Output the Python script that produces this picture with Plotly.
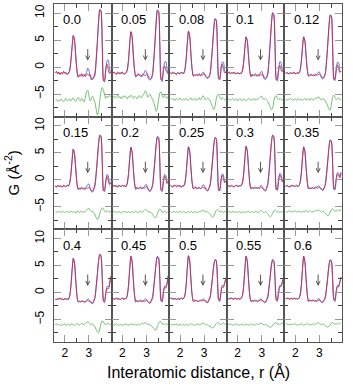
import plotly.graph_objects as go
from plotly.subplots import make_subplots

# radial grid (Angstrom)
r = [1.60, 1.65, 1.70, 1.75, 1.80, 1.85, 1.90, 1.95, 2.00, 2.05, 2.10, 2.15,
     2.20, 2.25, 2.30, 2.35, 2.40, 2.45, 2.50, 2.55, 2.60, 2.65, 2.70, 2.75,
     2.80, 2.85, 2.90, 2.95, 3.00, 3.05, 3.10, 3.15, 3.20, 3.25, 3.30, 3.35,
     3.40, 3.45, 3.50, 3.55, 3.60, 3.65, 3.70, 3.75, 3.80, 3.85, 3.90]

labels = ["0.0", "0.05", "0.08", "0.1", "0.12",
          "0.15", "0.2", "0.25", "0.3", "0.35",
          "0.4", "0.45", "0.5", "0.55", "0.6"]

# experimental G(r) (red), model (blue), offset difference (green)
obs_000 = [-1.0, -0.8, -1.3, -0.9, -1.4, -1.0, -1.3, -0.8, -1.2, -1.0, -1.4, -1.1, -0.6, 1.2, 3.8, 5.9, 5.0, 2.1, -0.6, -1.8, -1.4, -1.7, -1.2, -1.6, -1.3, -1.8, -1.4, -1.3, -1.6, -1.4, -2.0, -2.3, -1.8, -1.1, 1.6, 4.9, 8.6, 10.6, 10.3, 4.3, -2.6, -2.3, -0.3, 0.5, -0.4, -1.2, -0.9]
fit_000 = [-1.1, -0.9, -1.2, -1.0, -1.3, -1.1, -1.2, -0.9, -1.1, -1.1, -1.3, -1.2, -0.7, 1.0, 3.6, 5.8, 5.1, 2.3, -0.5, -1.9, -1.6, -1.5, -1.4, -1.8, -1.6, -1.5, -1.0, -0.2, -0.6, -1.8, -2.4, -2.1, -2.0, -1.5, 1.0, 4.6, 8.4, 10.7, 10.5, 4.8, -2.1, -2.8, -0.6, 1.2, 1.3, -0.3, -1.1]
dif_000 = [-6.2, -6.0, -6.4, -6.1, -6.3, -5.9, -6.2, -6.4, -6.0, -5.8, -6.3, -6.1, -5.9, -6.3, -6.0, -5.7, -6.2, -6.4, -5.9, -5.6, -6.0, -6.3, -5.8, -6.1, -6.5, -5.6, -4.6, -4.3, -5.2, -6.3, -5.9, -5.4, -6.0, -6.6, -7.8, -8.9, -8.1, -6.2, -4.6, -3.8, -4.2, -5.2, -5.8, -5.4, -5.6, -5.3, -5.5]

obs_005 = [-1.2, -0.9, -1.1, -1.4, -0.9, -1.2, -1.0, -1.3, -0.9, -1.2, -1.3, -1.0, -0.5, 1.3, 4.3, 6.6, 5.6, 2.3, -0.5, -1.7, -1.5, -1.2, -1.6, -1.4, -1.7, -1.3, -1.5, -1.6, -1.3, -1.5, -1.9, -2.2, -2.0, -1.2, 1.5, 4.8, 8.5, 10.5, 10.2, 4.2, -2.4, -2.2, -0.4, 0.2, -0.6, -1.0, -1.3]
fit_005 = [-1.1, -1.0, -1.2, -1.2, -1.0, -1.3, -1.1, -1.1, -1.0, -1.3, -1.2, -1.1, -0.6, 1.1, 4.1, 6.5, 5.7, 2.5, -0.4, -1.8, -1.7, -1.4, -1.5, -1.7, -1.8, -1.5, -1.1, -0.6, -0.9, -1.8, -2.3, -2.4, -2.1, -1.5, 1.0, 4.4, 8.3, 10.6, 10.4, 4.7, -1.9, -2.7, -0.8, 0.9, 1.0, -0.5, -1.2]
dif_005 = [-5.6, -5.4, -5.8, -5.5, -5.2, -5.7, -5.5, -5.9, -5.4, -5.6, -5.3, -5.7, -5.9, -5.4, -5.6, -5.2, -5.5, -5.8, -5.4, -5.6, -5.9, -5.5, -5.3, -5.7, -5.6, -5.2, -4.9, -4.4, -4.8, -5.6, -5.3, -5.0, -5.6, -6.0, -6.6, -7.4, -8.2, -7.6, -6.1, -4.8, -4.6, -5.3, -5.7, -5.2, -5.5, -5.8, -5.4]

obs_008 = [-1.0, -1.3, -0.9, -1.2, -1.1, -1.4, -1.0, -1.2, -1.3, -0.9, -1.2, -1.1, -0.5, 1.4, 4.4, 6.7, 5.7, 2.4, -0.4, -1.6, -1.4, -1.6, -1.3, -1.5, -1.2, -1.6, -1.4, -1.5, -1.2, -1.6, -1.8, -2.0, -1.7, -1.0, 1.3, 4.1, 7.2, 8.9, 8.6, 3.6, -2.2, -2.0, -0.2, 0.5, -0.3, -1.1, -1.0]
fit_008 = [-1.1, -1.2, -1.0, -1.1, -1.2, -1.3, -1.1, -1.1, -1.2, -1.0, -1.1, -1.2, -0.6, 1.2, 4.2, 6.6, 5.8, 2.6, -0.3, -1.7, -1.6, -1.5, -1.4, -1.6, -1.5, -1.6, -1.3, -0.9, -1.1, -1.7, -2.0, -2.1, -1.9, -1.3, 0.9, 3.8, 7.0, 9.0, 8.8, 4.0, -1.8, -2.4, -0.6, 0.9, 0.9, -0.6, -1.1]
dif_008 = [-6.0, -5.8, -6.1, -5.9, -6.2, -5.8, -6.0, -6.1, -5.7, -6.0, -6.2, -5.9, -6.1, -5.8, -6.0, -6.2, -5.9, -5.7, -6.1, -6.0, -5.8, -6.2, -5.9, -6.0, -5.7, -6.1, -5.8, -5.3, -5.6, -6.1, -5.9, -5.7, -6.0, -6.3, -6.8, -7.4, -7.9, -7.3, -6.0, -5.2, -5.0, -5.6, -6.0, -5.7, -5.9, -6.1, -5.8]

obs_010 = [-1.1, -0.9, -1.3, -1.0, -1.2, -0.9, -1.3, -1.1, -1.0, -1.3, -1.1, -1.2, -0.6, 1.0, 3.7, 5.6, 4.8, 2.0, -0.6, -1.7, -1.3, -1.6, -1.4, -1.2, -1.6, -1.4, -1.7, -1.3, -1.5, -1.4, -1.9, -2.1, -1.8, -1.1, 1.4, 4.6, 8.0, 10.0, 9.6, 4.0, -2.4, -2.1, -0.4, 0.3, -0.5, -0.9, -0.6]
fit_010 = [-1.0, -1.0, -1.2, -1.1, -1.1, -1.0, -1.2, -1.2, -1.1, -1.2, -1.2, -1.1, -0.7, 0.8, 3.5, 5.6, 4.9, 2.2, -0.5, -1.8, -1.5, -1.5, -1.6, -1.5, -1.7, -1.6, -1.4, -1.0, -0.8, -1.5, -2.2, -2.3, -2.0, -1.4, 1.0, 4.3, 7.8, 10.1, 9.8, 4.5, -1.9, -2.6, -0.8, 1.0, 0.9, -0.6, -0.8]
dif_010 = [-6.1, -5.9, -6.2, -6.0, -5.8, -6.2, -6.0, -5.9, -6.3, -6.0, -5.8, -6.1, -6.2, -5.9, -6.0, -6.3, -6.1, -5.8, -6.0, -6.2, -5.9, -6.1, -5.8, -6.2, -6.0, -5.9, -5.7, -5.5, -5.4, -5.9, -6.0, -5.8, -6.1, -6.4, -6.9, -7.4, -7.9, -7.6, -6.4, -5.5, -5.3, -5.8, -6.1, -5.8, -6.0, -6.2, -5.9]

obs_012 = [-1.2, -1.0, -1.1, -1.3, -1.0, -1.2, -1.1, -0.9, -1.3, -1.1, -1.0, -1.2, -0.6, 1.0, 3.7, 5.6, 4.8, 2.0, -0.6, -1.6, -1.4, -1.3, -1.6, -1.4, -1.5, -1.3, -1.6, -1.4, -1.3, -1.5, -1.8, -2.0, -1.7, -1.0, 1.3, 4.4, 7.7, 9.6, 9.3, 3.9, -2.3, -2.0, -0.3, 0.4, -0.4, -1.0, -0.8]
fit_012 = [-1.1, -1.1, -1.2, -1.2, -1.1, -1.1, -1.2, -1.0, -1.2, -1.2, -1.1, -1.1, -0.7, 0.9, 3.5, 5.6, 4.9, 2.2, -0.5, -1.7, -1.6, -1.5, -1.5, -1.6, -1.6, -1.5, -1.3, -1.0, -0.9, -1.5, -2.1, -2.2, -1.9, -1.3, 1.0, 4.1, 7.5, 9.7, 9.5, 4.3, -1.9, -2.5, -0.7, 0.9, 0.8, -0.7, -0.9]
dif_012 = [-6.0, -6.2, -5.9, -6.1, -5.8, -6.0, -6.2, -5.9, -6.0, -6.2, -5.8, -6.0, -6.1, -5.9, -6.2, -6.0, -5.8, -6.1, -6.0, -5.9, -6.2, -5.8, -6.0, -6.1, -5.9, -5.7, -5.8, -5.5, -5.7, -6.0, -6.1, -5.8, -6.0, -6.3, -6.7, -7.3, -7.8, -8.0, -6.9, -5.6, -5.2, -5.6, -6.0, -5.9, -5.7, -6.0, -6.1]

obs_015 = [-1.1, -1.4, -1.0, -1.3, -1.1, -1.2, -1.4, -1.0, -1.2, -1.3, -1.0, -1.2, -0.6, 1.0, 3.7, 5.7, 4.8, 2.0, -0.6, -1.7, -1.5, -1.8, -1.4, -1.6, -1.5, -1.8, -1.5, -1.6, -1.4, -1.7, -2.0, -2.1, -1.6, -0.8, 1.4, 4.0, 6.8, 8.2, 7.9, 3.3, -2.1, -1.8, -0.2, 0.6, 0.0, -0.9, -0.5]
fit_015 = [-1.2, -1.3, -1.1, -1.2, -1.2, -1.2, -1.3, -1.1, -1.2, -1.2, -1.1, -1.1, -0.7, 0.8, 3.5, 5.7, 4.9, 2.2, -0.5, -1.8, -1.7, -1.6, -1.6, -1.7, -1.8, -1.6, -1.3, -0.9, -0.8, -1.6, -2.2, -2.3, -1.9, -1.2, 0.9, 3.7, 6.6, 8.3, 8.1, 3.8, -1.7, -2.2, -0.5, 1.0, 0.7, -0.6, -0.7]
dif_015 = [-5.9, -6.1, -5.8, -6.0, -5.9, -6.1, -5.8, -6.0, -6.1, -5.9, -5.8, -6.1, -6.0, -5.8, -6.1, -5.9, -6.0, -6.2, -5.8, -5.9, -6.1, -5.8, -6.0, -5.9, -6.1, -5.8, -5.6, -5.4, -5.3, -5.7, -5.9, -5.8, -6.1, -6.5, -7.0, -7.4, -7.1, -6.3, -5.6, -5.2, -5.4, -5.9, -6.0, -5.7, -5.9, -6.1, -5.8]

obs_020 = [-1.3, -1.0, -1.2, -1.1, -1.4, -1.0, -1.2, -1.3, -1.0, -1.2, -1.1, -1.3, -0.6, 1.1, 3.9, 6.0, 5.1, 2.1, -0.6, -1.7, -1.4, -1.7, -1.5, -1.3, -1.6, -1.4, -1.6, -1.5, -1.3, -1.6, -1.9, -2.0, -1.6, -0.9, 1.3, 3.9, 6.6, 7.9, 7.7, 3.2, -2.0, -1.8, -0.1, 0.7, 0.2, -0.7, -0.3]
fit_020 = [-1.2, -1.1, -1.2, -1.2, -1.3, -1.1, -1.2, -1.2, -1.1, -1.1, -1.2, -1.2, -0.7, 0.9, 3.7, 6.0, 5.2, 2.3, -0.5, -1.8, -1.6, -1.6, -1.6, -1.5, -1.7, -1.6, -1.4, -1.0, -0.9, -1.6, -2.1, -2.2, -1.8, -1.2, 0.9, 3.6, 6.4, 8.0, 7.9, 3.6, -1.6, -2.2, -0.4, 1.0, 0.8, -0.4, -0.5]
dif_020 = [-6.0, -5.8, -6.1, -5.9, -6.1, -5.9, -6.0, -6.2, -5.9, -6.0, -5.8, -6.1, -6.0, -5.9, -6.1, -6.0, -5.9, -6.1, -6.0, -5.8, -6.0, -6.1, -5.9, -5.8, -6.1, -5.9, -5.7, -5.5, -5.6, -5.9, -6.0, -5.9, -6.1, -6.4, -6.8, -7.1, -6.9, -6.3, -5.7, -5.4, -5.6, -6.0, -6.1, -5.8, -6.0, -6.1, -5.9]

obs_025 = [-1.0, -1.2, -1.4, -1.0, -1.1, -1.3, -1.0, -1.2, -1.1, -1.4, -1.1, -1.2, -0.6, 1.1, 4.0, 6.1, 5.2, 2.2, -0.5, -1.6, -1.5, -1.3, -1.7, -1.5, -1.4, -1.7, -1.5, -1.4, -1.6, -1.5, -1.8, -2.0, -1.5, -0.8, 1.3, 3.8, 6.5, 7.8, 7.5, 3.1, -2.0, -1.7, 0.0, 0.8, 0.3, -0.6, -0.2]
fit_025 = [-1.1, -1.2, -1.3, -1.1, -1.1, -1.2, -1.1, -1.2, -1.1, -1.3, -1.2, -1.1, -0.7, 0.9, 3.8, 6.1, 5.3, 2.4, -0.4, -1.7, -1.6, -1.5, -1.6, -1.6, -1.5, -1.6, -1.4, -1.0, -1.0, -1.6, -2.0, -2.1, -1.7, -1.1, 0.9, 3.5, 6.3, 7.8, 7.7, 3.5, -1.6, -2.1, -0.3, 1.1, 0.9, -0.3, -0.3]
dif_025 = [-5.9, -6.1, -6.0, -5.8, -6.1, -6.0, -5.9, -6.1, -5.8, -6.0, -6.1, -5.9, -6.0, -6.2, -5.9, -6.0, -6.1, -5.8, -6.0, -6.1, -5.9, -6.0, -6.2, -5.9, -6.0, -5.8, -5.9, -5.6, -5.7, -6.0, -5.9, -6.0, -6.2, -6.4, -6.7, -7.0, -6.8, -6.2, -5.7, -5.5, -5.7, -6.0, -5.9, -5.8, -6.1, -5.9, -6.0]

obs_030 = [-1.2, -1.1, -1.3, -1.0, -1.2, -1.4, -1.1, -1.0, -1.3, -1.1, -1.2, -1.0, -0.5, 1.2, 4.1, 6.2, 5.3, 2.2, -0.5, -1.6, -1.4, -1.6, -1.5, -1.4, -1.6, -1.5, -1.6, -1.4, -1.5, -1.6, -1.8, -2.0, -1.5, -0.7, 1.5, 4.1, 6.9, 8.2, 7.9, 3.3, -1.9, -1.6, 0.1, 0.9, 0.5, -0.4, 0.2]
fit_030 = [-1.1, -1.2, -1.2, -1.1, -1.2, -1.3, -1.1, -1.1, -1.2, -1.2, -1.1, -1.1, -0.6, 1.0, 3.9, 6.2, 5.4, 2.4, -0.4, -1.7, -1.5, -1.5, -1.6, -1.5, -1.5, -1.6, -1.4, -1.1, -1.1, -1.6, -2.0, -2.1, -1.7, -1.0, 1.1, 3.8, 6.7, 8.3, 8.1, 3.7, -1.5, -2.0, -0.2, 1.2, 1.0, -0.1, 0.0]
dif_030 = [-6.0, -5.9, -6.1, -6.0, -5.8, -6.1, -5.9, -6.0, -6.1, -5.9, -6.0, -6.2, -5.9, -6.0, -6.1, -5.9, -6.0, -5.8, -6.1, -6.0, -5.9, -6.1, -6.0, -5.8, -6.0, -6.1, -5.9, -5.7, -5.8, -6.0, -6.1, -5.9, -6.1, -6.3, -6.6, -6.9, -6.7, -6.2, -5.8, -5.6, -5.8, -6.0, -5.9, -6.1, -5.9, -6.0, -5.9]

obs_035 = [-1.3, -1.0, -1.2, -1.4, -1.1, -1.2, -1.0, -1.3, -1.2, -1.0, -1.3, -1.1, -0.5, 1.2, 4.1, 6.1, 5.2, 2.2, -0.5, -1.6, -1.5, -1.7, -1.4, -1.6, -1.5, -1.3, -1.6, -1.5, -1.4, -1.6, -1.7, -1.9, -1.4, -0.7, 1.3, 3.6, 6.1, 7.3, 7.0, 3.0, -1.8, -1.5, 0.2, 1.0, 0.8, 0.3, 1.4]
fit_035 = [-1.2, -1.1, -1.2, -1.3, -1.2, -1.1, -1.1, -1.2, -1.2, -1.1, -1.2, -1.1, -0.6, 1.0, 3.9, 6.1, 5.3, 2.4, -0.4, -1.7, -1.6, -1.6, -1.5, -1.6, -1.6, -1.5, -1.4, -1.1, -1.2, -1.6, -1.9, -2.0, -1.6, -1.0, 1.0, 3.4, 6.0, 7.4, 7.2, 3.4, -1.4, -1.9, -0.1, 1.3, 1.2, 0.6, 1.2]
dif_035 = [-5.8, -6.0, -5.9, -5.7, -6.0, -5.9, -5.8, -6.0, -5.8, -5.9, -6.0, -5.8, -5.9, -6.1, -5.8, -5.9, -6.0, -5.7, -5.9, -6.0, -5.8, -5.9, -6.1, -5.8, -5.9, -5.7, -5.8, -5.6, -5.7, -5.9, -6.0, -5.8, -6.0, -6.2, -6.5, -6.7, -6.5, -6.0, -5.6, -5.4, -5.6, -5.9, -5.7, -5.8, -5.6, -5.8, -5.5]

obs_040 = [-1.2, -1.4, -1.1, -1.3, -1.0, -1.3, -1.2, -1.4, -1.1, -1.3, -1.2, -1.3, -0.6, 1.2, 4.2, 6.3, 5.4, 2.3, -0.5, -1.7, -1.6, -1.8, -1.5, -1.7, -1.6, -1.8, -1.6, -1.5, -1.7, -1.6, -1.9, -2.0, -1.5, -0.8, 1.2, 3.5, 5.9, 7.0, 6.7, 2.8, -1.7, -1.5, 0.0, 0.8, 0.6, 1.2, 3.0]
fit_040 = [-1.3, -1.3, -1.2, -1.2, -1.2, -1.2, -1.3, -1.3, -1.2, -1.2, -1.3, -1.2, -0.7, 1.0, 4.0, 6.3, 5.5, 2.5, -0.4, -1.8, -1.7, -1.7, -1.6, -1.7, -1.8, -1.7, -1.5, -1.2, -1.3, -1.7, -2.0, -2.1, -1.7, -1.1, 0.9, 3.3, 5.8, 7.1, 6.9, 3.2, -1.3, -1.9, -0.3, 1.1, 1.0, 1.5, 2.8]
dif_040 = [-6.0, -5.8, -6.1, -5.9, -6.0, -6.2, -5.9, -6.0, -5.8, -6.1, -5.9, -6.0, -6.1, -5.8, -6.0, -5.9, -6.1, -6.0, -5.8, -5.9, -6.1, -5.9, -5.7, -6.0, -5.9, -5.8, -5.6, -5.5, -5.6, -5.9, -6.0, -5.8, -6.1, -6.4, -6.9, -7.3, -7.5, -6.8, -5.8, -5.3, -5.4, -5.9, -6.0, -5.7, -5.8, -5.9, -6.0]

obs_045 = [-1.1, -1.3, -1.2, -1.0, -1.3, -1.1, -1.4, -1.2, -1.0, -1.3, -1.1, -1.2, -0.5, 1.3, 4.4, 6.7, 5.7, 2.4, -0.5, -1.7, -1.5, -1.7, -1.6, -1.4, -1.7, -1.5, -1.7, -1.6, -1.5, -1.7, -1.9, -1.9, -1.4, -0.8, 1.1, 3.3, 5.6, 6.6, 6.3, 2.6, -1.6, -1.4, 0.1, 0.9, 0.8, 1.5, 3.2]
fit_045 = [-1.2, -1.2, -1.2, -1.1, -1.2, -1.2, -1.3, -1.2, -1.1, -1.2, -1.2, -1.1, -0.6, 1.1, 4.2, 6.7, 5.8, 2.6, -0.4, -1.8, -1.6, -1.6, -1.7, -1.6, -1.7, -1.6, -1.5, -1.2, -1.3, -1.7, -2.0, -2.0, -1.6, -1.1, 0.8, 3.1, 5.5, 6.7, 6.5, 3.0, -1.2, -1.8, -0.2, 1.2, 1.1, 1.7, 3.0]
dif_045 = [-5.9, -6.1, -6.0, -5.8, -6.0, -6.1, -5.9, -6.0, -6.2, -5.9, -6.0, -5.8, -6.0, -6.1, -5.9, -6.0, -5.8, -6.1, -5.9, -6.0, -6.1, -5.8, -6.0, -5.9, -5.7, -5.9, -5.7, -5.6, -5.7, -6.0, -5.9, -6.0, -6.2, -6.4, -6.7, -7.0, -6.9, -6.3, -5.7, -5.4, -5.5, -5.9, -5.8, -6.0, -5.8, -5.9, -6.1]

obs_050 = [-1.2, -1.0, -1.3, -1.2, -1.1, -1.4, -1.1, -1.2, -1.3, -1.0, -1.2, -1.1, -0.5, 1.3, 4.5, 6.8, 5.8, 2.4, -0.5, -1.6, -1.4, -1.6, -1.5, -1.7, -1.5, -1.4, -1.6, -1.5, -1.6, -1.5, -1.8, -1.8, -1.3, -0.7, 1.0, 3.0, 5.1, 6.0, 5.8, 2.4, -1.5, -1.3, 0.2, 1.0, 0.9, 1.6, 2.6]
fit_050 = [-1.1, -1.1, -1.2, -1.2, -1.2, -1.3, -1.2, -1.2, -1.2, -1.1, -1.2, -1.1, -0.6, 1.1, 4.3, 6.8, 5.9, 2.6, -0.4, -1.7, -1.6, -1.5, -1.6, -1.7, -1.6, -1.5, -1.5, -1.2, -1.3, -1.6, -1.9, -1.9, -1.5, -1.0, 0.7, 2.8, 5.0, 6.1, 6.0, 2.8, -1.1, -1.7, -0.1, 1.3, 1.2, 1.8, 2.5]
dif_050 = [-6.0, -5.9, -6.1, -5.9, -6.0, -5.8, -6.1, -6.0, -5.9, -6.1, -5.9, -6.0, -6.1, -5.9, -6.0, -6.1, -5.9, -5.8, -6.0, -5.9, -6.1, -6.0, -5.9, -5.8, -6.0, -5.9, -5.8, -5.7, -5.8, -6.0, -5.9, -6.1, -6.2, -6.3, -6.5, -6.6, -6.5, -6.1, -5.8, -5.6, -5.7, -5.9, -6.0, -5.8, -5.7, -5.9, -5.8]

obs_055 = [-1.3, -1.1, -1.2, -1.0, -1.3, -1.2, -1.0, -1.3, -1.1, -1.2, -1.3, -1.0, -0.5, 1.3, 4.4, 6.7, 5.7, 2.4, -0.5, -1.6, -1.5, -1.7, -1.4, -1.6, -1.5, -1.7, -1.5, -1.4, -1.6, -1.5, -1.8, -1.8, -1.3, -0.7, 1.0, 3.0, 5.1, 6.0, 5.7, 2.4, -1.5, -1.3, 0.2, 1.1, 1.0, 1.7, 2.8]
fit_055 = [-1.2, -1.2, -1.1, -1.1, -1.2, -1.2, -1.1, -1.2, -1.2, -1.2, -1.2, -1.1, -0.6, 1.1, 4.2, 6.7, 5.8, 2.6, -0.4, -1.7, -1.6, -1.6, -1.5, -1.6, -1.6, -1.6, -1.5, -1.2, -1.3, -1.6, -1.9, -1.9, -1.5, -1.0, 0.7, 2.8, 5.0, 6.1, 5.9, 2.8, -1.1, -1.7, -0.1, 1.3, 1.3, 1.9, 2.7]
dif_055 = [-5.9, -6.0, -5.8, -6.0, -6.1, -5.9, -6.0, -5.8, -6.0, -6.1, -5.9, -6.0, -5.9, -6.1, -6.0, -5.8, -6.0, -6.1, -5.9, -6.0, -5.8, -6.0, -6.1, -5.9, -5.8, -6.0, -5.8, -5.7, -5.8, -5.9, -6.0, -5.9, -6.1, -6.2, -6.3, -6.5, -6.4, -6.1, -5.8, -5.6, -5.7, -5.9, -5.8, -6.0, -5.8, -5.7, -5.9]

obs_060 = [-1.1, -1.2, -1.0, -1.3, -1.1, -1.2, -1.3, -1.0, -1.2, -1.1, -1.3, -1.1, -0.5, 1.3, 4.4, 6.7, 5.7, 2.4, -0.5, -1.6, -1.4, -1.6, -1.5, -1.4, -1.6, -1.5, -1.7, -1.5, -1.4, -1.6, -1.8, -1.7, -1.3, -0.7, 1.0, 3.0, 5.1, 6.0, 5.7, 2.4, -1.4, -1.3, 0.3, 1.1, 1.0, 1.8, 2.9]
fit_060 = [-1.2, -1.1, -1.1, -1.2, -1.2, -1.1, -1.2, -1.1, -1.2, -1.2, -1.2, -1.1, -0.6, 1.1, 4.2, 6.7, 5.8, 2.6, -0.4, -1.7, -1.5, -1.5, -1.6, -1.5, -1.6, -1.6, -1.5, -1.2, -1.2, -1.6, -1.9, -1.8, -1.5, -1.0, 0.7, 2.8, 5.0, 6.1, 5.9, 2.8, -1.0, -1.7, 0.0, 1.3, 1.3, 2.0, 2.8]
dif_060 = [-5.9, -5.8, -6.0, -5.9, -6.1, -5.8, -6.0, -5.9, -5.8, -6.0, -6.1, -5.9, -6.0, -5.8, -5.9, -6.1, -6.0, -5.9, -5.8, -6.0, -5.9, -6.1, -5.9, -5.8, -6.0, -5.9, -5.7, -5.6, -5.8, -5.9, -6.0, -5.8, -6.0, -6.2, -6.3, -6.5, -6.3, -6.0, -5.7, -5.6, -5.8, -5.9, -5.8, -5.9, -5.7, -5.8, -5.6]

panels = [
    (obs_000, fit_000, dif_000), (obs_005, fit_005, dif_005), (obs_008, fit_008, dif_008),
    (obs_010, fit_010, dif_010), (obs_012, fit_012, dif_012),
    (obs_015, fit_015, dif_015), (obs_020, fit_020, dif_020), (obs_025, fit_025, dif_025),
    (obs_030, fit_030, dif_030), (obs_035, fit_035, dif_035),
    (obs_040, fit_040, dif_040), (obs_045, fit_045, dif_045), (obs_050, fit_050, dif_050),
    (obs_055, fit_055, dif_055), (obs_060, fit_060, dif_060),
]

arrow_r = 2.95
arrow_top = 3.6
arrow_tip = 1.2

FONT = "Liberation Sans, Arial, sans-serif"
RED = "rgba(200,40,60,0.85)"
BLUE = "rgba(80,80,230,0.85)"
GREEN = "rgb(110,190,110)"

fig = make_subplots(rows=3, cols=5, shared_xaxes=True, shared_yaxes=True,
                    horizontal_spacing=0, vertical_spacing=0)

annotations = []
for i, (obs, fit, dif) in enumerate(panels):
    row, col = i // 5 + 1, i % 5 + 1
    for ys, color in ((dif, GREEN), (fit, BLUE), (obs, RED)):
        fig.add_trace(go.Scatter(x=r, y=ys, mode="lines", showlegend=False,
                                 line=dict(color=color, width=1, shape="spline", smoothing=0.6)),
                      row=row, col=col)
    k = "" if i == 0 else str(i + 1)
    annotations.append(dict(text=labels[i], x=0.13, y=0.86, xref=f"x{k} domain", yref=f"y{k} domain",
                            xanchor="left", yanchor="middle", showarrow=False,
                            font=dict(size=13, color="#000", family=FONT)))
    annotations.append(dict(text="", x=arrow_r, y=arrow_tip, ax=arrow_r, ay=arrow_top,
                            xref=f"x{k}", yref=f"y{k}", axref=f"x{k}", ayref=f"y{k}",
                            showarrow=True, arrowhead=5, arrowsize=0.9, arrowwidth=0.9,
                            arrowcolor="#444"))

annotations.append(dict(text="Interatomic distance, r (Å)", x=0.5, y=-0.088, xref="paper", yref="paper",
                        xanchor="center", yanchor="middle", showarrow=False,
                        font=dict(size=16, color="#000", family=FONT)))
annotations.append(dict(text="G (Å<sup>-2</sup>)", x=-0.148, y=0.5, xref="paper", yref="paper",
                        xanchor="center", yanchor="middle", showarrow=False, textangle=-90,
                        font=dict(size=15, color="#000", family=FONT)))

fig.update_xaxes(range=[1.55, 3.94], tickvals=[2, 3], ticks="inside", ticklen=7, tickwidth=1,
                 tickcolor="#999", showline=True, linecolor="#555", linewidth=1, mirror="allticks",
                 showgrid=False, zeroline=False,
                 tickfont=dict(size=12, color="#000", family=FONT),
                 minor=dict(ticks="inside", ticklen=4, tickcolor="#444", dtick=0.5, tick0=0, showgrid=False))
fig.update_yaxes(range=[-9.2, 11.7], tickvals=[-5, 0, 5, 10], ticks="inside", ticklen=7, tickwidth=1,
                 tickcolor="#999", showline=True, linecolor="#555", linewidth=1, mirror="allticks",
                 showgrid=False, zeroline=False, tickangle=-90, ticklabelstandoff=4,
                 tickfont=dict(size=12, color="#000", family=FONT),
                 minor=dict(ticks="inside", ticklen=4, tickcolor="#444", dtick=2.5, tick0=0, showgrid=False))

fig.update_layout(width=353, height=387, margin=dict(l=54, r=11, t=4, b=45),
                  paper_bgcolor="white", plot_bgcolor="white", annotations=annotations)

# the page body has a default 8px margin; remove it so the figure sits at the window origin
fig.write_html("out.html", config={"displayModeBar": False},
               post_script="document.body.style.margin='0';")
